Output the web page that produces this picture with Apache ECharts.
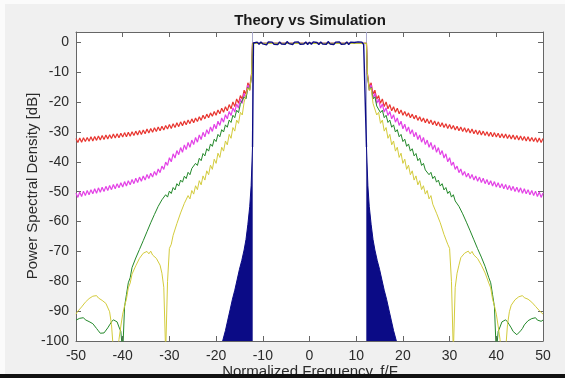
<!DOCTYPE html>
<html>
<head>
<meta charset="utf-8">
<script src="https://cdn.jsdelivr.net/npm/echarts@6/dist/echarts.min.js"></script>
<style>
  html, body { margin: 0; padding: 0; background: #f0f0f0; }
  #chart { width: 565px; height: 378px; }
</style>
</head>
<body>
<div id="chart"></div>
<script>
// Power spectral density of the transmitted signal, in dB, versus f/F.
// The spectrum is symmetric about f = 0, so each skirt is stored once
// against |f| and drawn on both sides.

// |f| sample positions of the skirts: 12.4, 12.8, ... 50.0 (one point per half ripple)
const skirtFreq = Array.from({ length: 95 }, (_, i) => +(12.4 + 0.4 * i).toFixed(1));

const redDb = [
  -10.5, -15.0, -13.5, -17.3, -16.0, -19.0, -17.8, -20.4, -18.9, -21.5,
  -19.9, -22.2, -20.8, -22.9, -21.5, -23.4, -22.0, -23.9, -22.6, -24.4,
  -23.1, -24.7, -23.6, -25.2, -24.0, -25.6, -24.4, -26.1, -24.9, -26.5,
  -25.3, -26.9, -25.6, -27.2, -26.0, -27.6, -26.3, -27.9, -26.6, -28.2,
  -26.9, -28.5, -27.2, -28.8, -27.5, -29.0, -27.8, -29.3, -28.1, -29.6,
  -28.3, -29.8, -28.6, -30.1, -28.8, -30.3, -29.0, -30.6, -29.3, -30.8,
  -29.5, -31.0, -29.7, -31.2, -29.9, -31.4, -30.1, -31.6, -30.2, -31.7,
  -30.4, -31.9, -30.6, -32.0, -30.7, -32.2, -30.9, -32.3, -31.0, -32.5,
  -31.2, -32.7, -31.3, -32.8, -31.5, -33.0, -31.6, -33.1, -31.8, -33.2,
  -31.9, -33.4, -32.0, -33.5, -32.2
];

const magentaDb = [
  -10.5, -16.1, -14.2, -18.7, -17.0, -20.4, -19.0, -22.0, -20.6, -23.3,
  -21.9, -24.5, -23.1, -25.6, -24.2, -26.7, -25.3, -27.8, -26.4, -28.9,
  -27.4, -29.8, -28.3, -30.7, -29.2, -31.6, -30.1, -32.5, -31.0, -33.4,
  -31.8, -34.2, -32.7, -35.1, -33.5, -35.9, -34.3, -36.8, -35.2, -37.6,
  -36.2, -38.7, -37.3, -40.0, -38.6, -41.2, -40.1, -42.5, -41.4, -43.6,
  -42.4, -44.5, -43.2, -45.1, -43.8, -45.6, -44.2, -46.1, -44.7, -46.5,
  -45.1, -46.9, -45.5, -47.3, -45.9, -47.7, -46.3, -48.1, -46.6, -48.4,
  -47.0, -48.7, -47.3, -49.0, -47.6, -49.3, -47.9, -49.6, -48.2, -49.9,
  -48.5, -50.2, -48.7, -50.5, -49.0, -50.7, -49.3, -51.0, -49.6, -51.3,
  -49.8, -51.6, -50.1, -51.9, -50.4
];

const greenDb = [
  -11.0, -15.9, -15.1, -18.9, -18.2, -21.3, -20.7, -23.5, -22.7, -25.2,
  -24.4, -26.8, -26.0, -28.4, -27.6, -30.0, -29.2, -31.6, -30.8, -33.2,
  -32.4, -34.8, -34.0, -36.4, -35.6, -38.0, -37.2, -39.6, -38.8, -41.2,
  -40.5, -42.7, -42.2, -44.3, -43.5, -45.6, -44.8, -46.8, -46.1, -48.1,
  -47.3, -49.4, -48.6, -50.6, -49.8, -51.8, -51.0, -53.1, -52.7, -54.9,
  -54.9, -57.4, -57.6, -60.2, -60.4, -63.1, -63.4, -66.1, -66.4, -69.1,
  -69.3, -71.9, -72.2, -75.0, -75.4, -78.8, -80.5, -84.5, -88.5, -104.0,
  -96.8, -95.3, -93.6, -93.4, -92.9, -93.6, -94.6, -95.6, -96.8, -97.3,
  -97.9, -97.4, -96.6, -95.8, -94.6, -94.2, -93.2, -93.5, -92.5, -92.9,
  -92.2, -93.0, -92.4, -93.4, -93.0
];

const yellowDb = [
  -10.5, -16.1, -15.3, -20.4, -20.0, -24.3, -23.4, -27.1, -26.0, -29.7,
  -28.5, -32.1, -30.8, -34.3, -33.0, -36.4, -35.1, -38.5, -37.1, -40.5,
  -39.1, -42.5, -41.1, -44.3, -43.0, -46.1, -44.7, -47.7, -46.3, -49.3,
  -48.0, -50.8, -49.6, -52.4, -51.3, -54.2, -53.9, -57.2, -57.1, -60.4,
  -60.7, -64.3, -64.6, -67.6, -69.0, -80.0, -104.0, -82.0, -77.3, -74.6,
  -72.1, -72.3, -70.6, -71.2, -69.9, -70.8, -70.0, -71.2, -70.6, -72.4,
  -72.3, -74.6, -74.8, -77.2, -77.6, -80.6, -82.2, -86.0, -88.2, -91.0,
  -95.0, -99.5, -106.0, -108.0, -103.0, -94.5, -90.2, -88.0, -87.4, -86.2,
  -86.4, -85.2, -85.6, -84.8, -85.5, -85.0, -86.0, -85.8, -87.0, -87.0,
  -88.4, -88.6, -89.8, -90.0, -91.0
];

// simulated passband, f = -12.0 ... 12.0 in steps of 0.4
const passFreq = Array.from({ length: 61 }, (_, i) => +(-12 + 0.4 * i).toFixed(1));
const passDb = [
  -0.2, -0.7, 0.1, -0.6, 0.2, -0.5, 0.0, -0.8, 0.2, -0.4,
  0.1, -0.6, -0.1, -0.7, 0.2, -0.5, 0.1, -0.6, 0.3, -0.4,
  0.0, -0.7, 0.1, -0.5, 0.2, -0.6, -0.1, -0.5, 0.2, -0.7,
  0.1, -0.6, 0.2, -0.4, 0.0, -0.7, 0.2, -0.5, 0.1, -0.6,
  0.3, -0.5, 0.0, -0.7, 0.1, -0.4, 0.2, -0.6, -0.1, -0.5,
  0.2, -0.7, 0.1, -0.5, 0.0, -0.6, 0.2, -0.4, 0.1, -0.7,
  -0.3
];

// envelope of the simulated out-of-band skirt (|f|)
const simSkirtFreq = [12.2, 12.5, 12.8, 13.2, 13.6, 14.0, 14.5, 15.0, 15.5, 16.0, 16.5, 17.0, 17.5, 18.0, 18.6];
const simSkirtDb   = [-35, -48, -55, -61, -66, -69.5, -73, -76, -79.5, -83, -86, -89.5, -93, -96.5, -100];

const bandEdge = 12.2;
const passLevelDb = -0.3;

const xTicks = { min: -50, max: 50, step: 10 };
const yTicks = { min: -100, max: 3.5, step: 10 };

// full two-sided trace: left skirt, flat passband, right skirt
function twoSided(db) {
  const pts = [];
  for (let i = skirtFreq.length - 1; i >= 0; i--) pts.push([-skirtFreq[i], db[i]]);
  pts.push([-bandEdge, passLevelDb], [bandEdge, passLevelDb]);
  for (let i = 0; i < skirtFreq.length; i++) pts.push([skirtFreq[i], db[i]]);
  return pts;
}

const passTrace = [[-bandEdge, simSkirtDb[0]]]
  .concat(passFreq.map((f, i) => [f, passDb[i]]))
  .concat([[bandEdge, simSkirtDb[0]]]);
const leftSkirt = simSkirtFreq.map((f, i) => [-f, simSkirtDb[i]]).reverse();
const rightSkirt = simSkirtFreq.map((f, i) => [f, simSkirtDb[i]]);

const FONT = 'Liberation Sans, Arial, Helvetica, sans-serif';
const AX = '#666666';
const TXT = '#2b2b2b';

function lineSeries(name, data, color, width, z) {
  return {
    name, type: 'line', data, showSymbol: false, symbol: 'none',
    lineStyle: { color, width }, clip: true, z, animation: false
  };
}

const axisCommon = {
  type: 'value',
  axisLine: { show: true, onZero: false, lineStyle: { color: AX, width: 1 } },
  axisTick: { show: true, inside: true, length: 5, lineStyle: { color: AX, width: 1 } },
  splitLine: { show: false }
};

const chart = echarts.init(document.getElementById('chart'), null, { renderer: 'canvas' });
chart.setOption({
  animation: false,
  backgroundColor: '#f0f0f0',
  grid: { left: 76, top: 32, width: 467, height: 309, backgroundColor: '#ffffff', show: true, borderWidth: 0 },
  xAxis: [
    Object.assign({}, axisCommon, {
      position: 'bottom', min: xTicks.min, max: xTicks.max, interval: xTicks.step,
      axisLabel: { color: TXT, fontSize: 14, fontFamily: FONT, margin: 8 }
    }),
    Object.assign({}, axisCommon, {
      position: 'top', min: xTicks.min, max: xTicks.max, interval: xTicks.step,
      axisLabel: { show: false }
    })
  ],
  yAxis: [
    Object.assign({}, axisCommon, {
      position: 'left', min: yTicks.min, max: yTicks.max, interval: yTicks.step,
      axisLabel: { color: TXT, fontSize: 14, fontFamily: FONT, margin: 7, showMaxLabel: false }
    }),
    Object.assign({}, axisCommon, {
      position: 'right', min: yTicks.min, max: yTicks.max, interval: yTicks.step,
      axisLabel: { show: false }
    })
  ],
  series: [
    lineSeries('edgeL', [[-bandEdge, yTicks.min], [-bandEdge, yTicks.max]], '#a8a8cc', 1, 1),
    lineSeries('edgeR', [[bandEdge, yTicks.min], [bandEdge, yTicks.max]], '#a8a8cc', 1, 1),
    lineSeries('theory A', twoSided(redDb), '#e8352f', 1.2, 2),
    lineSeries('theory B', twoSided(magentaDb), '#e342e6', 1.2, 3),
    lineSeries('theory C', twoSided(greenDb), '#23882a', 1, 4),
    lineSeries('theory D', twoSided(yellowDb), '#d3cb3c', 1, 5),
    Object.assign(lineSeries('sim skirt L', leftSkirt, '#0b0b86', 1, 6),
      { areaStyle: { color: '#0b0b86', opacity: 1, origin: 'start' } }),
    Object.assign(lineSeries('sim skirt R', rightSkirt, '#0b0b86', 1, 6),
      { areaStyle: { color: '#0b0b86', opacity: 1, origin: 'start' } }),
    lineSeries('simulation', passTrace, '#0b0b86', 1.4, 7)
  ],
  graphic: [
    { type: 'rect', shape: { x: 0, y: 0, width: 565, height: 4 }, style: { fill: '#fbfbfb' }, z: 0, silent: true },
    { type: 'rect', shape: { x: 0, y: 0, width: 5, height: 374 }, style: { fill: '#fbfbfb' }, z: 0, silent: true },
    {
      type: 'text', x: 310, y: 21, silent: true, z: 10,
      style: { text: 'Theory vs Simulation', font: 'bold 15px ' + FONT, fill: '#1a1a1a',
               textAlign: 'center', textVerticalAlign: 'middle' }
    },
    {
      type: 'text', x: 33, y: 186, rotation: Math.PI / 2, silent: true, z: 10,
      style: { text: 'Power Spectral Density [dB]', font: '15px ' + FONT, fill: TXT,
               textAlign: 'center', textVerticalAlign: 'middle' }
    },
    {
      type: 'text', x: 310, y: 372, silent: true, z: 10,
      style: { text: 'Normalized Frequency, f/F', font: '15px ' + FONT, fill: TXT,
               textAlign: 'center', textVerticalAlign: 'middle' }
    },
    { type: 'rect', shape: { x: 0, y: 374, width: 565, height: 4 }, style: { fill: '#111111' }, z: 20, silent: true }
  ]
});
</script>
</body>
</html>
